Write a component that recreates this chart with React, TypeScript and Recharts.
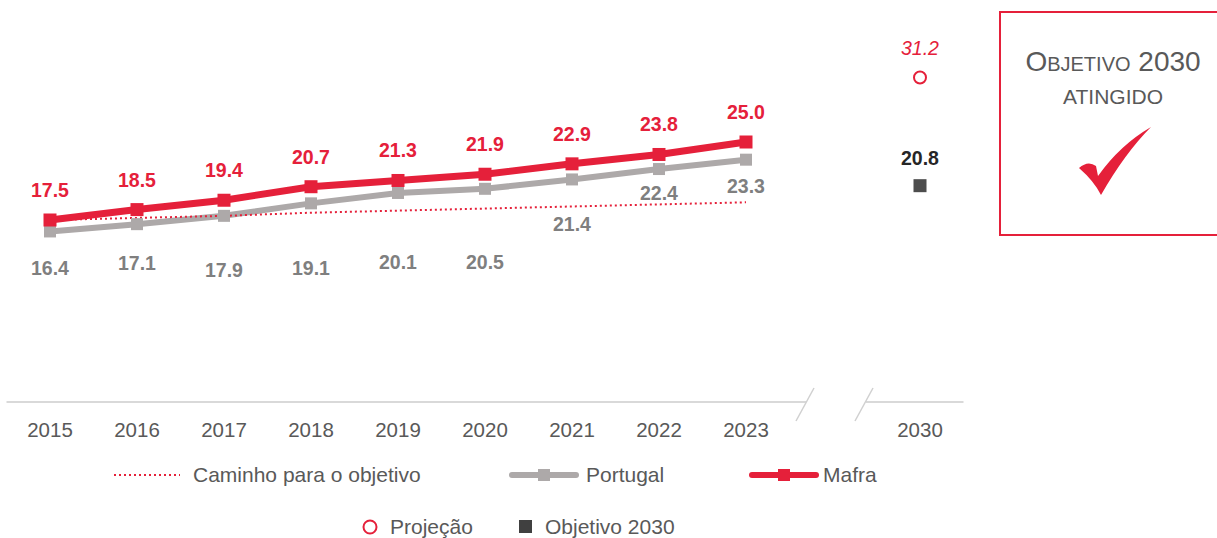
import React from "react";
import { LineChart, Line, XAxis, YAxis } from "recharts";

const years = ["2015", "2016", "2017", "2018", "2019", "2020", "2021", "2022", "2023", " ", "2030"];
const mafra = [17.5, 18.5, 19.4, 20.7, 21.3, 21.9, 22.9, 23.8, 25.0, null, null];
const portugal = [16.4, 17.1, 17.9, 19.1, 20.1, 20.5, 21.4, 22.4, 23.3, null, null];
const caminho = [17.5, 17.7, 17.9, 18.2, 18.4, 18.6, 18.8, 19.0, 19.2, null, null];
const projecao = [null, null, null, null, null, null, null, null, null, null, 31.2];
const objetivo = [null, null, null, null, null, null, null, null, null, null, 20.8];

const data = years.map((year, i) => ({
  year,
  mafra: mafra[i],
  portugal: portugal[i],
  caminho: caminho[i],
  projecao: projecao[i],
  objetivo: objetivo[i],
}));

const RED = "#E5203A";
const GREY = "#ADA9A9";
const GREY_TEXT = "#7F7F7F";
const TEXT = "#595959";
const FONT = "'Liberation Sans', Arial, sans-serif";

// vertical offset of the Portugal labels (px from the point), as placed in the original
const portugalLabelDy = [37, 39, 54, 65, 69, 73, 45, 24, 26];

const squareDot = (size: number, color: string) => (props: any) => {
  const { cx, cy, index, value } = props;
  if (cx == null || cy == null || value == null) return <g key={`d-${index}`} />;
  return <rect key={`d-${index}`} x={cx - size / 2} y={cy - size / 2} width={size} height={size} fill={color} />;
};

const circleDot = (props: any) => {
  const { cx, cy, index, value } = props;
  if (cx == null || cy == null || value == null) return <g key={`c-${index}`} />;
  return <circle key={`c-${index}`} cx={cx} cy={cy} r={6} fill="#fff" stroke={RED} strokeWidth={2} />;
};

const makeLabel =
  (color: string, dyFor: (i: number) => number, opts: { bold?: boolean; italic?: boolean } = {}) =>
  (props: any) => {
    const { x, y, value, index } = props;
    if (value == null || x == null || y == null) return null;
    return (
      <text
        x={x}
        y={y + dyFor(index ?? 0)}
        textAnchor="middle"
        dominantBaseline="central"
        fill={color}
        fontSize={19.5}
        fontFamily={FONT}
        fontWeight={opts.bold ? 700 : 400}
        fontStyle={opts.italic ? "italic" : "normal"}
      >
        {Number(value).toFixed(1)}
      </text>
    );
  };

const LegendLine = ({ color, dotted, marker }: { color: string; dotted?: boolean; marker?: boolean }) => (
  <svg width={72} height={14} style={{ display: "block" }}>
    {dotted ? (
      <line x1={2} y1={7} x2={68} y2={7} stroke={color} strokeWidth={2} strokeDasharray="2 3" />
    ) : (
      <line x1={4} y1={7} x2={68} y2={7} stroke={color} strokeWidth={6} strokeLinecap="round" />
    )}
    {marker && <rect x={30} y={1} width={12} height={12} fill={color} />}
  </svg>
);

const legendText: React.CSSProperties = {
  position: "absolute",
  fontSize: 21,
  color: TEXT,
  fontFamily: FONT,
  lineHeight: "24px",
  whiteSpace: "nowrap",
};

export default function App() {
  return (
    <div style={{ position: "absolute", left: 0, top: 0, width: 1217, height: 538, background: "#fff", overflow: "hidden", fontFamily: FONT }}>
      <LineChart width={980} height={450} data={data} margin={{ top: 38, right: 16.5, left: 6.5, bottom: 8 }}>
        <XAxis
          dataKey="year"
          interval={0}
          tickLine={false}
          axisLine={{ stroke: "#D9D9D9", strokeWidth: 2 }}
          tick={{ fill: TEXT, fontSize: 20.5, fontFamily: FONT }}
          tickMargin={14}
          height={40}
          padding={{ left: 43.5, right: 43.5 }}
        />
        <YAxis hide domain={[0, 35]} />
        <Line
          dataKey="portugal"
          stroke={GREY}
          strokeWidth={6}
          dot={squareDot(12, GREY)}
          activeDot={false}
          isAnimationActive={false}
          label={makeLabel(GREY_TEXT, (i) => portugalLabelDy[i] ?? 36, { bold: true })}
        />
        <Line dataKey="caminho" stroke={RED} strokeWidth={2} strokeDasharray="2 3" dot={false} activeDot={false} isAnimationActive={false} />
        <Line
          dataKey="mafra"
          stroke={RED}
          strokeWidth={7}
          dot={squareDot(13, RED)}
          activeDot={false}
          isAnimationActive={false}
          label={makeLabel(RED, () => -30, { bold: true })}
        />
        <Line
          dataKey="projecao"
          stroke="none"
          dot={circleDot}
          activeDot={false}
          isAnimationActive={false}
          label={makeLabel(RED, () => -30, { italic: true })}
        />
        <Line
          dataKey="objetivo"
          stroke="none"
          dot={squareDot(13, "#4D4D4D")}
          activeDot={false}
          isAnimationActive={false}
          label={makeLabel("#262626", () => -28, { bold: true })}
        />
      </LineChart>

      {/* axis break */}
      <svg width={1217} height={538} style={{ position: "absolute", left: 0, top: 0, pointerEvents: "none" }}>
        <rect x={806} y={398} width={60} height={10} fill="#fff" />
        <line x1={814} y1={388} x2={796} y2={421} stroke="#D0D0D0" strokeWidth={1.5} />
        <line x1={873} y1={388} x2={855} y2={421} stroke="#D0D0D0" strokeWidth={1.5} />
      </svg>

      {/* legend */}
      <div style={{ position: "absolute", left: 112, top: 468 }}>
        <LegendLine color={RED} dotted />
      </div>
      <div style={{ ...legendText, left: 193, top: 463 }}>Caminho para o objetivo</div>
      <div style={{ position: "absolute", left: 508, top: 468 }}>
        <LegendLine color={GREY} marker />
      </div>
      <div style={{ ...legendText, left: 586, top: 463 }}>Portugal</div>
      <div style={{ position: "absolute", left: 748, top: 468 }}>
        <LegendLine color={RED} marker />
      </div>
      <div style={{ ...legendText, left: 823, top: 463 }}>Mafra</div>

      <svg width={18} height={18} style={{ position: "absolute", left: 361, top: 518 }}>
        <circle cx={9} cy={9} r={6.5} fill="#fff" stroke={RED} strokeWidth={2} />
      </svg>
      <div style={{ ...legendText, left: 390, top: 515 }}>Projeção</div>
      <div style={{ position: "absolute", left: 519, top: 520, width: 13, height: 13, background: "#404040" }} />
      <div style={{ ...legendText, left: 545, top: 515 }}>Objetivo 2030</div>

      {/* objective box */}
      <div
        style={{
          position: "absolute",
          left: 999,
          top: 11,
          width: 240,
          height: 225,
          border: `2px solid ${RED}`,
          boxSizing: "border-box",
        }}
      />
      <div style={{ position: "absolute", left: 1000, top: 46, width: 226, textAlign: "center", color: TEXT, lineHeight: "32px" }}>
        <span style={{ fontSize: 28 }}>O</span>
        <span style={{ fontSize: 20 }}>BJETIVO</span>
        <span style={{ fontSize: 28 }}> 2030</span>
      </div>
      <div style={{ position: "absolute", left: 1000, top: 84, width: 226, textAlign: "center", color: TEXT, fontSize: 21, lineHeight: "26px" }}>
        ATINGIDO
      </div>
      <svg width={80} height={74} style={{ position: "absolute", left: 1076, top: 125 }}>
        <path d="M 3 43 Q 12 35 20 41 L 22 51 Q 44 20 75 2 Q 49 28 25 70 Q 18 56 3 43 Z" fill={RED} />
      </svg>
    </div>
  );
}
